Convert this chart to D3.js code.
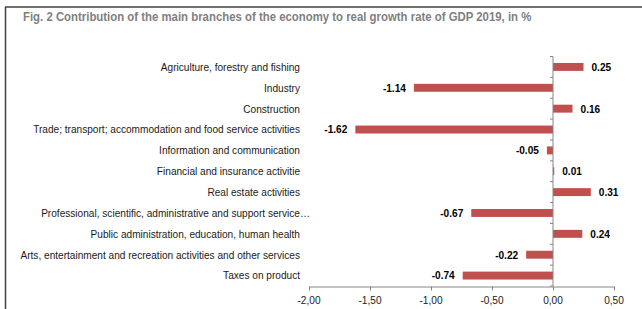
<!DOCTYPE html>
<html><head><meta charset="utf-8">
<script src="https://cdn.jsdelivr.net/npm/d3@7"></script>
<style>html,body{margin:0;padding:0;background:#fff;}svg{display:block;}</style>
</head><body>
<svg id="c" width="642" height="309"></svg>
<script>
const title = "Fig. 2 Contribution of the main branches of the economy to real growth rate of GDP 2019, in %";
const categories = [
  "Agriculture, forestry and fishing",
  "Industry",
  "Construction",
  "Trade; transport; accommodation and food service activities",
  "Information and communication",
  "Financial and insurance activitie",
  "Real estate activities",
  "Professional, scientific, administrative and support service\u2026",
  "Public administration, education, human health",
  "Arts, entertainment and recreation activities and other services",
  "Taxes on product"
];
const values = [0.25, -1.14, 0.16, -1.62, -0.05, 0.01, 0.31, -0.67, 0.24, -0.22, -0.74];
const xTicks = [-2, -1.5, -1, -0.5, 0, 0.5];

const SX = 0.92;
const svg = d3.select("#c");
const font = "'Liberation Sans', Arial, sans-serif";
const fmt = d => d3.format(".2f")(d).replace("\u2212", "-");

// frame
svg.append("line").attr("x1", 5).attr("x2", 642).attr("y1", 7).attr("y2", 7)
  .attr("stroke", "#404040").attr("stroke-width", 1.5);
svg.append("line").attr("x1", 5.5).attr("x2", 5.5).attr("y1", 7).attr("y2", 309)
  .attr("stroke", "#404040").attr("stroke-width", 1.5);

function txt(x, y, s, opts) {
  const g = svg.append("g").attr("transform", `translate(${x},${y}) scale(${opts.sx || SX},1)`);
  return g.append("text").text(s)
    .attr("font-family", font).attr("font-size", opts.size || 11)
    .attr("font-weight", opts.weight || "normal")
    .attr("fill", opts.fill || "#1a1a1a")
    .attr("text-anchor", opts.anchor || "start")
    .attr("dy", opts.dy || 0);
}

txt(23, 21, title, {size: 12, weight: "bold", fill: "#7f7f7f", sx: 0.95});

const x = d3.scaleLinear().domain([-2, 0.5]).range([309, 614]);
const y = d3.scaleBand().domain(categories).range([56.5, 286]).paddingInner(0.62).paddingOuter(0.31);

// bars
svg.append("g").selectAll("rect").data(values).join("rect")
  .attr("x", d => x(Math.min(0, d)))
  .attr("width", d => Math.abs(x(d) - x(0)))
  .attr("y", (d, i) => y(categories[i]))
  .attr("height", y.bandwidth())
  .attr("fill", "#c0504d");

// y axis
const y0 = y.range()[0], step = y.step();
const bounds = d3.range(categories.length + 1).map(i => y0 + i * step);
svg.append("line").attr("x1", x(0)).attr("x2", x(0)).attr("y1", y0).attr("y2", y.range()[1])
  .attr("stroke", "#868686").attr("stroke-width", 1);
svg.append("g").selectAll("line").data(bounds).join("line")
  .attr("x1", x(0) - 3).attr("x2", x(0)).attr("y1", d => d).attr("y2", d => d)
  .attr("stroke", "#868686").attr("stroke-width", 1);

// category labels (a trailing ellipsis overflows the label edge)
categories.forEach((c, i) => {
  const ox = c.endsWith("\u2026") ? 10 : 0;
  txt(300 + ox, y(c) + y.bandwidth() / 2, c, {anchor: "end", dy: "0.35em"});
});

// x axis
const xa = svg.append("g").attr("transform", "translate(0,286.5)")
  .call(d3.axisBottom(x).tickValues(xTicks).tickSize(4).tickSizeOuter(0)
    .tickFormat(d => fmt(d).replace(".", ",")));
xa.select(".domain").attr("stroke", "#868686");
xa.selectAll(".tick line").attr("stroke", "#868686");
xa.selectAll(".tick text").remove();
xTicks.forEach(t => txt(x(t), 304, fmt(t).replace(".", ","), {anchor: "middle"}));

// value labels
values.forEach((v, i) => {
  const cy = y(categories[i]) + y.bandwidth() / 2;
  if (v >= 0) txt(x(v) + 8, cy, fmt(v), {weight: "bold", dy: "0.35em", fill: "#000"});
  else txt(x(v) - 8, cy, fmt(v), {weight: "bold", dy: "0.35em", fill: "#000", anchor: "end"});
});
</script>
</body></html>
